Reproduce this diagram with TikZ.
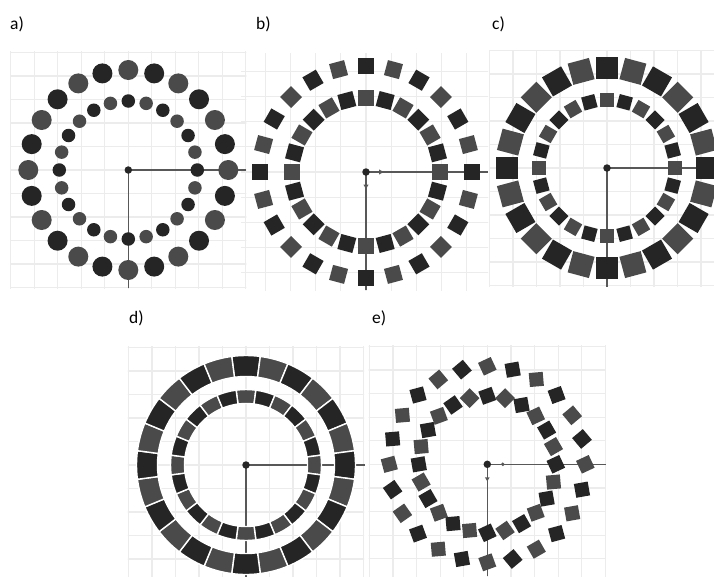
\documentclass[tikz,border=0pt]{standalone}
\usepackage{fontspec}
\setmainfont{Carlito}
\definecolor{dk}{RGB}{37,37,37}
\definecolor{gy}{RGB}{74,74,74}
\definecolor{gridc}{RGB}{236,236,236}
\definecolor{axisc}{RGB}{88,88,88}
\colorlet{ao0}{gy}\colorlet{ao1}{dk}
\colorlet{ai0}{dk}\colorlet{ai1}{gy}
\colorlet{bo0}{dk}\colorlet{bo1}{gy}
\colorlet{bi0}{gy}\colorlet{bi1}{dk}
\colorlet{co0}{dk}\colorlet{co1}{gy}
\colorlet{ci0}{gy}\colorlet{ci1}{dk}
\colorlet{do0}{dk}\colorlet{do1}{gy}
\colorlet{di0}{gy}\colorlet{di1}{dk}
\colorlet{eo0}{gy}\colorlet{eo1}{dk}
\colorlet{ei0}{dk}\colorlet{ei1}{gy}
% #1 xmin #2 xmax #3 ytop #4 ybottom #5 cx #6 cy #7 spacing
\newcommand{\panelgrid}[7]{%
  \begin{scope}
    \clip (#1,{-(#3)}) rectangle (#2,{-(#4)});
    \foreach \i in {-6,...,6}{
      \draw[gridline] ({#5+\i*#7},{-(#3)+2}) -- ({#5+\i*#7},{-(#4)-2});
      \draw[gridline] ({#1-2},{-(#6)-\i*#7}) -- ({#2+2},{-(#6)-\i*#7});
    }
  \end{scope}}
\begin{document}
\begin{tikzpicture}[x=1pt,y=1pt,
  gridline/.style={draw=gridc, line width=1.2pt},
  axisline/.style={draw=axisc, line width=1.5pt},
  cdot/.style={circle, fill=black!85, inner sep=0pt, minimum size=7.5pt},
  odot/.style={circle, inner sep=0pt, minimum size=20pt},
  idot/.style={circle, inner sep=0pt, minimum size=13.5pt},
  sq/.style={rectangle, inner sep=0pt, minimum size=#1},
  seg/.style={draw=white, line width=1.4pt},
  lab/.style={font=\fontsize{17.5}{20}\selectfont, anchor=west, inner sep=0pt}
]
\useasboundingbox (0,0) rectangle (714,-576);
\fill[white] (0,0) rectangle (714,-576);

% labels
\node[lab] (la) at (10,-24) {a)};
\node[lab] (lb) at (256,-24) {b)};
\node[lab] (lc) at (492,-24) {c)};
\node[lab] (ld) at (129,-318) {d)};
\node[lab] (le) at (372,-318) {e)};

% grids
\panelgrid{10.2}{246.4}{51.9}{288.1}{128.3}{170}{23.5}
\panelgrid{241}{488}{53}{290}{366}{172}{25.2}
\panelgrid{489}{714}{50}{286.5}{607}{168}{23.5}
\panelgrid{127.9}{364.1}{346.9}{576}{246}{465}{23.5}
\panelgrid{368.7}{605.9}{345.7}{576}{487.3}{464.3}{23.6}

% ---------- panel a ----------
\begin{scope}[shift={(128.3,-170)}]
  \coordinate (ac) at (0,0);
  \coordinate (ax) at (117.5,0);
  \coordinate (ay) at (0,-117.5);
  \draw[axisline] (ac) -- (ax);
  \draw[axisline] (ac) -- (ay);
  \foreach \k [evaluate={\k as \c using int(mod(\k,2))}] in {0,...,23}{
    \node[odot, fill=ao\c] (ao\k) at ({90-15*\k}:100) {};
    \node[idot, fill=ai\c] (ai\k) at ({90-15*\k}:69) {};
  }
  \node[cdot] (acd) at (ac) {};
\end{scope}

% ---------- panel b ----------
\begin{scope}[shift={(366,-172)}]
  \coordinate (bc) at (0,0);
  \coordinate (bx) at (122,0);
  \coordinate (by) at (0,-118);
  \draw[axisline] (bc) -- (bx);
  \draw[axisline] (bc) -- (by);
  \fill[axisc] (13,2.6) -- (17.5,0) -- (13,-2.6) -- cycle;
  \fill[axisc] (-2.6,-12.5) -- (0,-17) -- (2.6,-12.5) -- cycle;
  \foreach \k [evaluate={\k as \c using int(mod(\k,2))}] in {0,...,23}{
    \node[sq=15.5pt, fill=bo\c, rotate={90-15*\k}] (bo\k) at ({90-15*\k}:106) {};
    \node[sq=15.5pt, fill=bi\c, rotate={90-15*\k}] (bi\k) at ({90-15*\k}:74) {};
  }
  \node[cdot] (bcd) at (bc) {};
\end{scope}

% ---------- panel c ----------
\begin{scope}[shift={(607,-168)}]
  \coordinate (cc) at (0,0);
  \coordinate (cx) at (110,0);
  \coordinate (cy) at (0,-118.5);
  \draw[axisline] (cc) -- (cx);
  \draw[axisline] (cc) -- (cy);
  \foreach \k [evaluate={\k as \c using int(mod(\k,2))}] in {0,...,23}{
    \node[sq=22pt, fill=co\c, rotate={90-15*\k}] (co\k) at ({90-15*\k}:100) {};
    \node[sq=13.5pt, fill=ci\c, rotate={90-15*\k}] (ci\k) at ({90-15*\k}:68) {};
  }
  \node[cdot] (ccd) at (cc) {};
\end{scope}

% ---------- panel d ----------
\begin{scope}[shift={(246,-465)}]
  \coordinate (dc) at (0,0);
  \coordinate (dx) at (119,0);
  \coordinate (dy) at (0,-115);
  \draw[axisline] (dc) -- (dx);
  \draw[axisline] (dc) -- (dy);
  \foreach \k [evaluate={\k as \c using int(mod(\k,2))}, evaluate={\k as \a using 90-15*\k}] in {0,...,23}{
    \filldraw[seg, fill=do\c] ({\a-7.5}:88.5) arc[start angle={\a-7.5}, end angle={\a+7.5}, radius=88.5]
      -- ({\a+7.5}:109.5) arc[start angle={\a+7.5}, end angle={\a-7.5}, radius=109.5] -- cycle;
    \filldraw[seg, fill=di\c] ({\a-7.5}:61.5) arc[start angle={\a-7.5}, end angle={\a+7.5}, radius=61.5]
      -- ({\a+7.5}:75.5) arc[start angle={\a+7.5}, end angle={\a-7.5}, radius=75.5] -- cycle;
  }
  \node[cdot] (dcd) at (dc) {};
\end{scope}

% ---------- panel e ----------
\begin{scope}[shift={(487.3,-464.3)}]
  \coordinate (ec) at (0,0);
  \coordinate (ex) at (118.5,0);
  \coordinate (ey) at (0,-112);
  \draw[axisline] (ec) -- (ex);
  \draw[axisline] (ec) -- (ey);
  \fill[axisc] (15.5,0) circle (1.9);
  \fill[axisc] (-2.4,-13) -- (0,-17) -- (2.4,-13) -- cycle;
  \foreach \k/\t [evaluate={\k as \c using int(mod(\k,2))}] in
    {0/25,1/10,2/5,3/20,4/40,5/40,6/25,7/10,8/10,9/15,10/30,11/40,
     12/20,13/10,14/5,15/20,16/35,17/35,18/15,19/5,20/5,21/15,22/40,23/40}{
    \node[sq=14pt, fill=eo\c, rotate=\t] (eo\k) at ({90-15*\k}:98) {};
  }
  \foreach \k/\t [evaluate={\k as \c using int(mod(\k,2))}] in
    {0/20,1/45,2/10,3/25,4/30,5/30,6/25,7/5,8/10,9/20,10/30,11/35,
     12/25,13/5,14/5,15/20,16/30,17/30,18/10,19/5,20/10,21/20,22/35,23/45}{
    \node[sq=14pt, fill=ei\c, rotate=\t] (ei\k) at ({90-15*\k}:68.5) {};
  }
  \node[cdot] (ecd) at (ec) {};
\end{scope}
\end{tikzpicture}
\end{document}
